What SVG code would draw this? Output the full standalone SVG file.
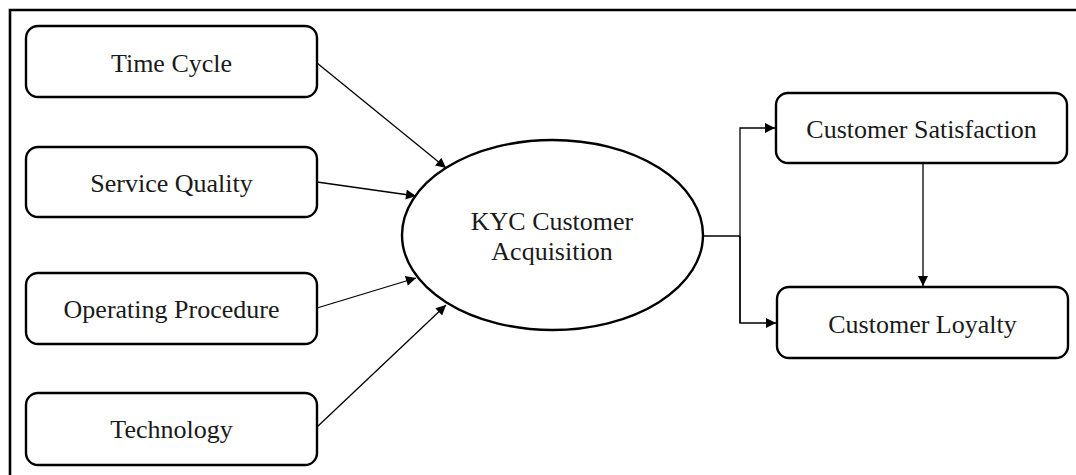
<svg xmlns="http://www.w3.org/2000/svg" width="1076" height="475" viewBox="0 0 1076 475">
  <style>
    .box { fill: #ffffff; stroke: #000000; stroke-width: 2.4; }
    .frame { fill: none; stroke: #000000; stroke-width: 2.6; }
    .label { font-family: "Liberation Serif", "Times New Roman", serif; font-size: 26px; fill: #1a1a1a; text-anchor: middle; }
    .link { fill: none; stroke: #000000; stroke-width: 1.3; }
  </style>
  <defs>
    <marker id="arrow" viewBox="0 0 10 10" refX="10" refY="5" markerWidth="11" markerHeight="10" markerUnits="userSpaceOnUse" orient="auto">
      <path d="M0,0 L10,5 L0,10 Z" fill="#000000"/>
    </marker>
  </defs>
  <rect width="1076" height="475" fill="#ffffff"/>

  <!-- outer frame: left and top edges only -->
  <path class="frame" d="M10,475 V10 H1076"/>

  <g id="time-cycle">
    <rect class="box" x="26" y="26" width="291" height="71" rx="12"/>
    <text class="label" x="171.5" y="72">Time Cycle</text>
  </g>
  <g id="service-quality">
    <rect class="box" x="26" y="147" width="291" height="70" rx="12"/>
    <text class="label" x="171.5" y="192">Service Quality</text>
  </g>
  <g id="operating-procedure">
    <rect class="box" x="26" y="273" width="291" height="71" rx="12"/>
    <text class="label" x="171.5" y="318">Operating Procedure</text>
  </g>
  <g id="technology">
    <rect class="box" x="26" y="393" width="291" height="72" rx="12"/>
    <text class="label" x="171.5" y="438">Technology</text>
  </g>

  <g id="kyc-acquisition">
    <ellipse class="box" cx="552.5" cy="235" rx="150.5" ry="95"/>
    <text class="label" x="552" y="230">KYC Customer</text>
    <text class="label" x="552" y="260">Acquisition</text>
  </g>

  <g id="customer-satisfaction">
    <rect class="box" x="776" y="93" width="291" height="70" rx="12"/>
    <text class="label" x="921.5" y="138">Customer Satisfaction</text>
  </g>
  <g id="customer-loyalty">
    <rect class="box" x="777" y="287" width="291" height="71" rx="12"/>
    <text class="label" x="922.5" y="333">Customer Loyalty</text>
  </g>

  <g id="connectors">
    <line class="link" x1="317" y1="63" x2="446" y2="168" marker-end="url(#arrow)"/>
    <line class="link" x1="317" y1="182" x2="416" y2="196" marker-end="url(#arrow)"/>
    <line class="link" x1="317" y1="308" x2="416" y2="278" marker-end="url(#arrow)"/>
    <line class="link" x1="317" y1="427" x2="446" y2="305" marker-end="url(#arrow)"/>
    <path class="link" d="M703,236 H740"/>
    <path class="link" d="M740,323 V128 H775" marker-end="url(#arrow)"/>
    <path class="link" d="M740,236 V323 H776" marker-end="url(#arrow)"/>
    <line class="link" x1="923" y1="163" x2="923" y2="286" marker-end="url(#arrow)"/>
  </g>
</svg>
